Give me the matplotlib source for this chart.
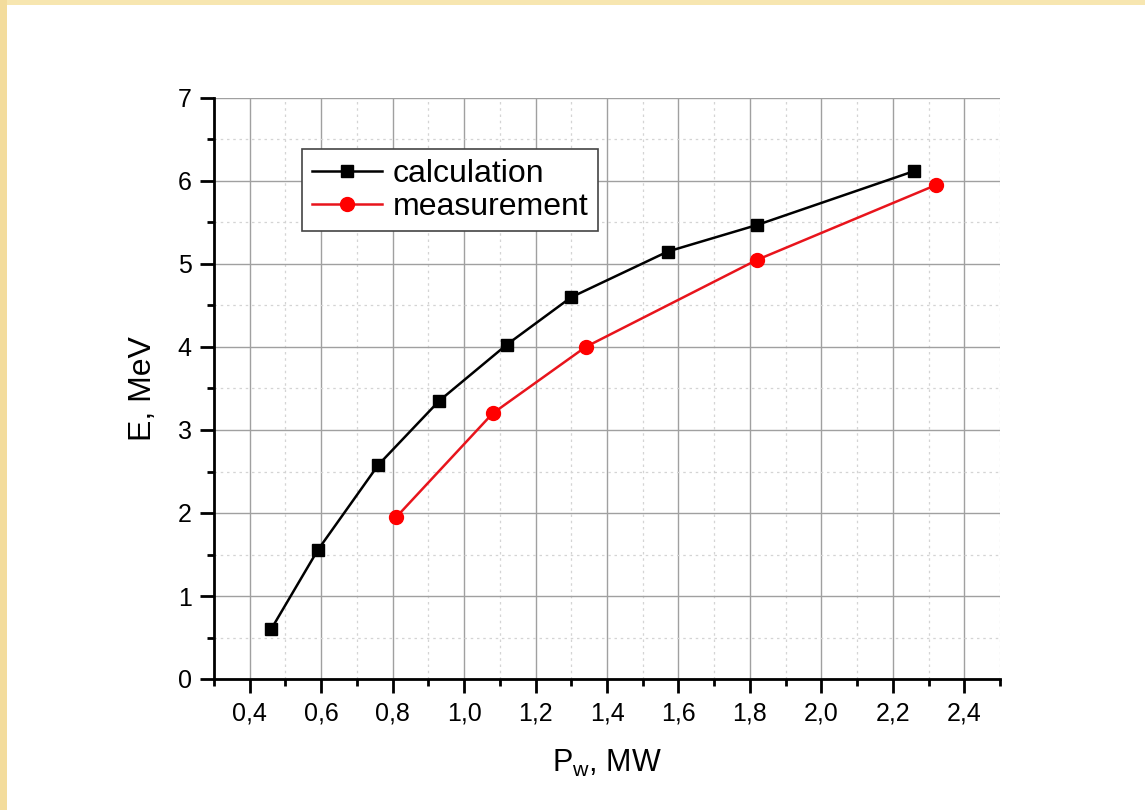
import matplotlib.pyplot as plt
from matplotlib.ticker import MultipleLocator, FuncFormatter
from matplotlib.patches import Rectangle

plt.rcParams['font.family'] = ['Liberation Sans', 'DejaVu Sans']

# calculated beam energy vs. input power
calc_p = [0.46, 0.59, 0.76, 0.93, 1.12, 1.30, 1.57, 1.82, 2.26]
calc_e = [0.60, 1.55, 2.58, 3.35, 4.03, 4.60, 5.15, 5.47, 6.12]

# measured points
meas_p = [0.81, 1.08, 1.34, 1.82, 2.32]
meas_e = [1.95, 3.20, 4.00, 5.05, 5.95]

fig = plt.figure(figsize=(11.45, 8.10), dpi=100)

# slide border strips
fig.patches.append(Rectangle((0, 1 - 5/810), 1, 5/810, transform=fig.transFigure,
                             facecolor='#f7e6b0', edgecolor='none', zorder=0))
fig.patches.append(Rectangle((0, 0), 7/1145, 1, transform=fig.transFigure,
                             facecolor='#f3dc9c', edgecolor='none', zorder=0))

ax = fig.add_axes([214/1145, 1 - 679/810, 786/1145, 581/810])

ax.plot(calc_p, calc_e, color='black', lw=1.8, marker='s', ms=8.5, label='calculation', zorder=3)
ax.plot(meas_p, meas_e, color='#e8141c', lw=1.8, marker='o', ms=10,
        markerfacecolor='#ff0000', markeredgecolor='#ff0000', label='measurement', zorder=3)

ax.set_xlim(0.3, 2.5)
ax.set_ylim(0, 7)
ax.xaxis.set_major_locator(MultipleLocator(0.2))
ax.xaxis.set_minor_locator(MultipleLocator(0.1))
ax.yaxis.set_major_locator(MultipleLocator(1))
ax.yaxis.set_minor_locator(MultipleLocator(0.5))
ax.xaxis.set_major_formatter(FuncFormatter(lambda v, p: ('%.1f' % v).replace('.', ',')))

ax.grid(which='major', color='#a0a0a0', lw=1.0)
ax.grid(which='minor', color='#d4d4d4', lw=0.9, ls=(0, (2, 3)))
ax.set_axisbelow(True)

for s in ['top', 'right']:
    ax.spines[s].set_visible(False)
for s in ['left', 'bottom']:
    ax.spines[s].set_linewidth(2.0)

ax.tick_params(which='major', direction='out', length=10, width=2, labelsize=18, pad=6)
ax.tick_params(which='minor', direction='out', length=5, width=2)

ax.set_xlabel('P$_{\\mathregular{w}}$, MW', fontsize=22, labelpad=16)
ax.set_ylabel('E, MeV', fontsize=23, labelpad=14)

leg = ax.legend(loc='upper left', bbox_to_anchor=(0.112, 0.912), fontsize=23,
                frameon=True, fancybox=False, framealpha=1, edgecolor='#444444',
                handlelength=2.2, borderpad=0.3, labelspacing=0.1, handletextpad=0.35,
                borderaxespad=0)
leg.get_frame().set_linewidth(1.2)

fig.savefig('out.png', dpi=100)
